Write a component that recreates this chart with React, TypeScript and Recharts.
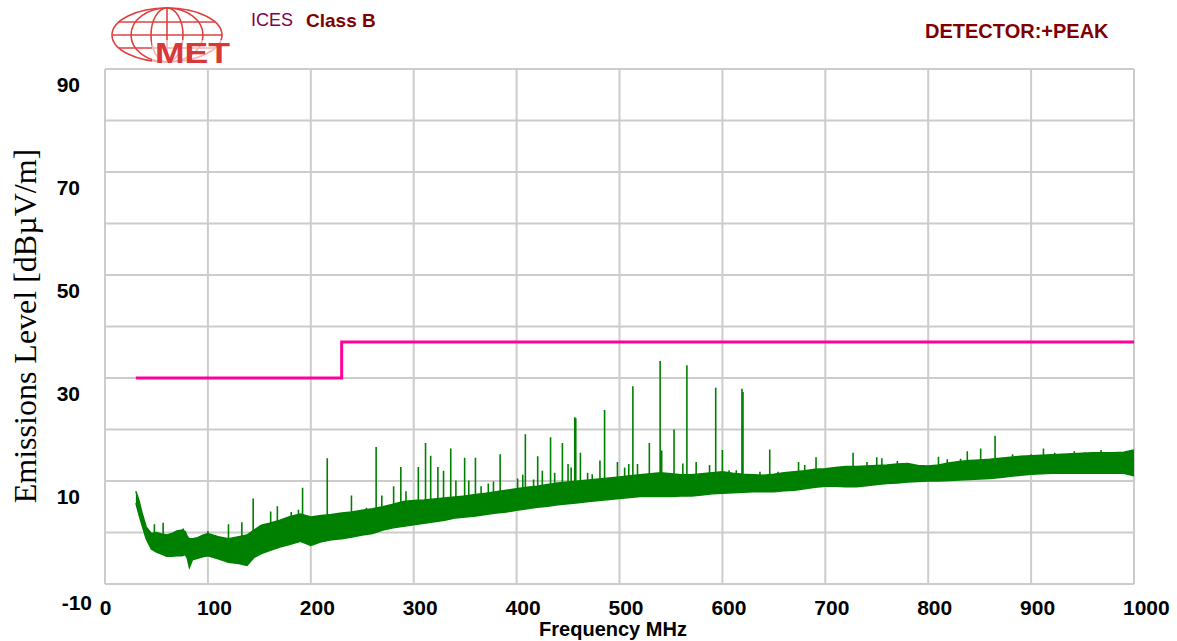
import React from 'react';
import { ComposedChart, Line, Area, XAxis, YAxis, CartesianGrid } from 'recharts';

// Emission band (lower / upper envelope of the measured trace), dBµV/m
const bandFreq = [30, 33, 36, 40, 45, 50, 55, 60, 65, 70, 75, 78, 80, 82, 85, 90, 95, 100, 110, 120, 130, 138, 145, 152, 160, 170, 180, 190, 200, 210, 220, 230, 240, 250, 260, 270, 280, 290, 300, 310, 320, 330, 340, 350, 360, 370, 380, 390, 400, 410, 420, 430, 440, 450, 460, 470, 480, 490, 500, 510, 520, 530, 540, 550, 560, 570, 580, 590, 600, 610, 620, 630, 640, 650, 660, 670, 680, 690, 700, 710, 720, 730, 740, 750, 760, 770, 780, 790, 800, 810, 820, 830, 840, 850, 860, 870, 880, 890, 900, 910, 920, 930, 940, 950, 960, 970, 980, 990, 1000];
const bandLow = [5.7, 3.5, 1.4, -1.2, -3.2, -3.8, -4.2, -4.6, -4.6, -4.5, -4.5, -4.3, -5.0, -6.8, -5.3, -5.0, -4.7, -4.5, -5.1, -5.8, -6.0, -6.4, -4.8, -4.1, -3.5, -2.8, -2.3, -1.7, -2.5, -1.8, -1.4, -1.2, -0.9, -0.5, -0.2, 0.5, 0.9, 1.2, 1.5, 1.8, 2.1, 2.4, 2.8, 3.0, 3.2, 3.5, 3.8, 4.0, 4.3, 4.6, 4.9, 5.1, 5.4, 5.6, 5.8, 6.0, 6.2, 6.4, 6.6, 6.8, 7.0, 7.0, 7.0, 7.0, 7.1, 7.1, 7.3, 7.5, 7.6, 7.7, 7.8, 7.9, 7.9, 7.9, 8.1, 8.2, 8.5, 8.8, 9.0, 9.0, 8.9, 8.9, 9.1, 9.3, 9.5, 9.6, 9.8, 9.9, 10.0, 10.0, 10.1, 10.2, 10.3, 10.4, 10.5, 10.7, 10.9, 11.1, 11.3, 11.4, 11.5, 11.5, 11.5, 11.5, 11.5, 11.5, 11.5, 11.5, 11.0];
const bandHigh = [8.0, 6.2, 3.8, 1.1, -0.2, 0.0, -0.3, -0.5, -0.2, 0.3, 0.5, 0.2, -0.8, -1.2, -1.2, -1.0, -0.5, -0.2, -0.8, -1.2, -0.8, -0.5, 0.5, 1.4, 1.8, 2.4, 3.1, 3.6, 3.0, 3.3, 3.5, 3.8, 4.0, 4.3, 4.6, 5.0, 5.5, 6.0, 6.2, 6.3, 6.5, 6.7, 6.9, 7.1, 7.4, 7.6, 7.9, 8.2, 8.5, 8.8, 9.0, 9.3, 9.6, 9.8, 10.0, 10.2, 10.4, 10.6, 10.8, 11.0, 11.2, 11.4, 11.6, 11.4, 11.2, 11.2, 11.4, 11.6, 11.8, 11.5, 11.3, 11.2, 11.1, 11.3, 11.6, 11.8, 12.0, 12.3, 12.4, 12.6, 12.8, 12.8, 12.9, 13.0, 13.1, 13.3, 13.4, 13.0, 12.9, 13.1, 13.5, 13.8, 14.0, 14.1, 14.2, 14.4, 14.6, 14.8, 14.9, 15.0, 15.1, 15.2, 15.3, 15.4, 15.5, 15.5, 15.5, 15.6, 16.0];

// Narrow-band peaks
const spikeFreq = [48, 56.5, 76, 100, 120, 133, 144, 161, 167.5, 181, 188, 192, 216, 239.5, 254, 263.5, 269, 280.5, 287.5, 292.5, 304.5, 311.5, 316.5, 323.5, 329, 336, 341, 349.5, 353.5, 360, 365.5, 372.5, 377.5, 384, 390, 401, 406, 408.5, 416.5, 420.5, 425, 433, 437, 444.5, 450, 453, 456.5, 457.5, 462, 469, 473.5, 481, 485.5, 498, 505, 509, 513, 517.5, 529, 539.5, 541, 553, 561.5, 565.5, 574.5, 587.5, 593.5, 600, 606.5, 613.5, 619, 620, 636.5, 646, 654, 674, 680, 691, 716, 727, 740.5, 750, 755, 770, 810, 818.5, 831.5, 838, 851, 865, 882, 900, 912, 923, 942, 952, 968, 988, 997];
const spikePeak = [1.6, 1.9, 0.8, 0.3, 1.6, 2.0, 6.6, 4.1, 5.1, 4.0, 4.4, 8.7, 14.4, 7.2, 4.8, 16.6, 7.2, 9.0, 12.7, 8.0, 12.7, 17.4, 14.9, 12.7, 12.0, 16.3, 10.1, 14.5, 10.1, 14.5, 9.0, 9.5, 9.9, 15.2, 7.7, 10.5, 11.2, 19.1, 10.3, 14.8, 12.0, 18.5, 11.6, 17.4, 13.3, 12.6, 22.4, 22.2, 15.5, 11.6, 11.3, 14.0, 23.8, 13.7, 12.6, 13.3, 28.4, 13.3, 17.4, 33.3, 15.9, 20.0, 13.4, 32.5, 13.7, 13.1, 28.1, 16.0, 12.1, 12.1, 27.9, 27.3, 11.8, 16.1, 11.8, 13.7, 13.1, 14.6, 12.8, 15.5, 13.7, 14.6, 14.4, 13.9, 14.7, 14.2, 14.3, 15.8, 16.3, 18.8, 15.2, 15.2, 16.3, 15.5, 15.8, 15.6, 16.0, 15.5, 16.0];

// ICES Class B limit
const limitFreq = [30, 230, 230, 1000];
const limitLevel = [30, 30, 37, 37];

const xTicks = [0, 100, 200, 300, 400, 500, 600, 700, 800, 900, 1000];
const yTicks = [-10, 0, 10, 20, 30, 40, 50, 60, 70, 80, 90];
const yLabelTicks = [90, 70, 50, 30, 10, -10];

const bandData = bandFreq.map((f, i) => ({ f, range: [bandLow[i], bandHigh[i]] }));

const nearestMid = (f: number) => {
  let best = 0;
  for (let i = 0; i < bandFreq.length; i++) {
    if (Math.abs(bandFreq[i] - f) < Math.abs(bandFreq[best] - f)) best = i;
  }
  return (bandLow[best] + bandHigh[best]) / 2;
};

const spikeData = spikeFreq.flatMap((f, i) => [
  { f, v: nearestMid(f) },
  { f, v: spikePeak[i] },
  { f, v: nearestMid(f) },
]);

const limitData = limitFreq.map((f, i) => ({ f, v: limitLevel[i] }));

const TICK_FONT = '"Liberation Sans", Arial, sans-serif';

const YTick = (props: any) => {
  const { y, payload } = props;
  const v = payload.value;
  if (!yLabelTicks.includes(v)) return <g />;
  return (
    <text
      x={v === -10 ? 92 : 80}
      y={y + (v === -10 ? 26 : 23)}
      textAnchor="end"
      fontFamily={TICK_FONT}
      fontWeight="bold"
      fontSize={21}
      fill="#000"
    >
      {v}
    </text>
  );
};

const XTick = (props: any) => {
  const { x, payload } = props;
  const v = payload.value;
  return (
    <text
      x={v === 0 ? x + 0.5 : x - 11}
      y={615}
      textAnchor={v === 0 ? 'middle' : 'start'}
      fontFamily={TICK_FONT}
      fontWeight="bold"
      fontSize={21}
      fill="#000"
    >
      {v}
    </text>
  );
};

const Logo = () => {
  const c = '#e04040';
  return (
    <g>
      <g stroke={c} fill="none" strokeWidth={1.6}>
        <ellipse cx={167} cy={35} rx={55} ry={27} />
        <ellipse cx={167} cy={35} rx={36} ry={27} />
        <ellipse cx={167} cy={35} rx={16} ry={27} />
        <line x1={167} y1={8} x2={167} y2={62} />
        <line x1={119} y1={22} x2={215} y2={22} />
        <line x1={112} y1={35} x2={222} y2={35} />
        <line x1={119} y1={48} x2={215} y2={48} />
      </g>
      <rect x={152} y={40} width={80} height={24} fill="#fff" opacity={0.6} />
      <text
        x={155}
        y={63}
        fontFamily={TICK_FONT}
        fontWeight="bold"
        fontSize={30}
        fill="#d83838"
        textLength={75}
        lengthAdjust="spacingAndGlyphs"
      >
        MET
      </text>
    </g>
  );
};

export default function App() {
  return (
    <div style={{ position: 'absolute', left: 0, top: 0, width: 1177, height: 641, background: '#fff' }}>
      <ComposedChart
        width={1177}
        height={641}
        margin={{ top: 69, right: 43, bottom: 27, left: 45 }}
      >
        <CartesianGrid stroke="#cccccc" strokeWidth={2} />
        <XAxis
          type="number"
          dataKey="f"
          domain={[0, 1000]}
          ticks={xTicks}
          interval={0}
          height={30}
          axisLine={false}
          tickLine={false}
          tick={<XTick />}
          allowDataOverflow
        />
        <YAxis
          type="number"
          domain={[-10, 90]}
          ticks={yTicks}
          interval={0}
          width={60}
          axisLine={false}
          tickLine={false}
          tick={<YTick />}
          allowDataOverflow
        />
        <Area
          data={bandData}
          dataKey="range"
          type="linear"
          stroke="#008000"
          strokeWidth={1.5}
          fill="#008000"
          fillOpacity={1}
          dot={false}
          activeDot={false}
          isAnimationActive={false}
        />
        <Line
          data={spikeData}
          dataKey="v"
          type="linear"
          stroke="#008000"
          strokeWidth={1.6}
          dot={false}
          activeDot={false}
          isAnimationActive={false}
        />
        <Line
          data={limitData}
          dataKey="v"
          type="linear"
          stroke="#ff0099"
          strokeWidth={3}
          dot={false}
          activeDot={false}
          isAnimationActive={false}
        />
      </ComposedChart>
      <svg
        width={1177}
        height={641}
        style={{ position: 'absolute', left: 0, top: 0, pointerEvents: 'none' }}
      >
        <Logo />
        <text x={251} y={26} fontFamily={TICK_FONT} fontSize={18} fill="#800055">ICES</text>
        <text x={306} y={27} fontFamily={TICK_FONT} fontWeight="bold" fontSize={19} fill="#800000">Class B</text>
        <text x={925} y={38} fontFamily={TICK_FONT} fontWeight="bold" fontSize={20} fill="#800000">DETECTOR:+PEAK</text>
        <text x={613} y={636} textAnchor="middle" fontFamily={TICK_FONT} fontWeight="bold" fontSize={20} fill="#000">Frequency MHz</text>
        <text
          x={0}
          y={0}
          transform="translate(36 326) rotate(-90)"
          textAnchor="middle"
          fontFamily='"Liberation Serif", "Times New Roman", serif'
          fontSize={32}
          fill="#000"
        >
          Emissions Level [dBµV/m]
        </text>
      </svg>
    </div>
  );
}
